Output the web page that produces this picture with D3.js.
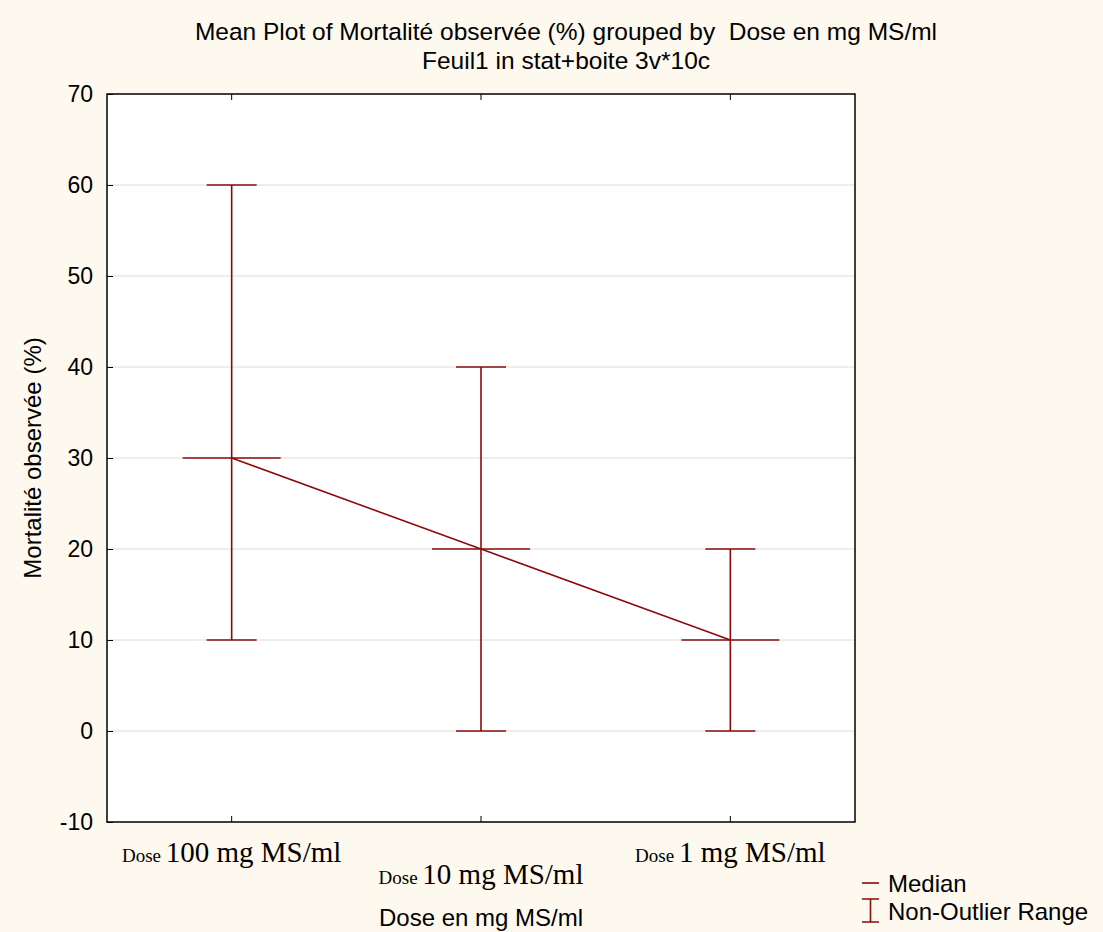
<!DOCTYPE html>
<html>
<head>
<meta charset="utf-8">
<script src="https://cdn.jsdelivr.net/npm/d3@7"></script>
<style>
  body { margin: 0; background: #fdf9ef; }
  svg { display: block; }
  text { font-family: "Liberation Sans", Arial, sans-serif; fill: #000; }
</style>
</head>
<body>
<svg id="chart" width="1103" height="932"></svg>
<script>
// data
var doses = ["100 mg MS/ml", "10 mg MS/ml", "1 mg MS/ml"];
var medians = [30, 20, 10];
var lows = [10, 0, 0];
var highs = [60, 40, 20];
var yTicks = [-10, 0, 10, 20, 30, 40, 50, 60, 70];

var red = "#8b0a0a";
var svg = d3.select("#chart");
var pLeft = 107, pRight = 855, pTop = 94, pBottom = 822;

var x = d3.scaleBand().domain(doses).range([pLeft, pRight]);
var y = d3.scaleLinear().domain([-10, 70]).range([pBottom, pTop]);
var cx = function(d) { return x(d) + x.bandwidth() / 2; };

svg.append("rect")
    .attr("width", 1103).attr("height", 932)
    .style("fill", "#fdf9ef");
svg.append("rect")
    .attr("x", pLeft).attr("y", pTop)
    .attr("width", pRight - pLeft).attr("height", pBottom - pTop)
    .style("fill", "#fff");

// grid
svg.selectAll("grid")
    .data(yTicks.slice(1, -1))
    .enter()
    .append("line")
    .attr("x1", pLeft).attr("x2", pRight)
    .attr("y1", function(d) { return y(d); })
    .attr("y2", function(d) { return y(d); })
    .style("stroke", "#dcdcdc")
    .style("stroke-width", 1);

// y axis
var yAxis = svg.append("g")
    .attr("transform", "translate(" + pLeft + ",0)")
    .call(d3.axisLeft(y).tickValues(yTicks).tickFormat(function(d) { return String(d); })
      .tickSizeInner(-6).tickSizeOuter(0).tickPadding(14));
yAxis.select(".domain").remove();
yAxis.selectAll("line").style("stroke", "#000");
yAxis.selectAll("text")
    .style("font-size", "23px")
    .style("font-family", "Liberation Sans, Arial, sans-serif");

// x ticks, bottom and top
svg.selectAll("xtickB")
    .data(doses)
    .enter()
    .append("line")
    .attr("x1", cx).attr("x2", cx)
    .attr("y1", pBottom).attr("y2", pBottom - 6)
    .style("stroke", "#000");
svg.selectAll("xtickT")
    .data(doses)
    .enter()
    .append("line")
    .attr("x1", cx).attr("x2", cx)
    .attr("y1", pTop).attr("y2", pTop + 6)
    .style("stroke", "#000");

// frame
svg.append("rect")
    .attr("x", pLeft).attr("y", pTop)
    .attr("width", pRight - pLeft).attr("height", pBottom - pTop)
    .style("fill", "none")
    .style("stroke", "#000")
    .style("stroke-width", 1.5);

// whiskers
var g = svg.append("g").style("stroke", red).style("stroke-width", 1.6).style("fill", "none");
g.selectAll("whisk")
    .data(doses)
    .enter()
    .append("line")
    .attr("x1", cx).attr("x2", cx)
    .attr("y1", function(d, i) { return y(lows[i]); })
    .attr("y2", function(d, i) { return y(highs[i]); });
g.selectAll("capHi")
    .data(doses)
    .enter()
    .append("line")
    .attr("x1", function(d) { return cx(d) - 25; })
    .attr("x2", function(d) { return cx(d) + 25; })
    .attr("y1", function(d, i) { return y(highs[i]); })
    .attr("y2", function(d, i) { return y(highs[i]); });
g.selectAll("capLo")
    .data(doses)
    .enter()
    .append("line")
    .attr("x1", function(d) { return cx(d) - 25; })
    .attr("x2", function(d) { return cx(d) + 25; })
    .attr("y1", function(d, i) { return y(lows[i]); })
    .attr("y2", function(d, i) { return y(lows[i]); });
g.selectAll("med")
    .data(doses)
    .enter()
    .append("line")
    .attr("x1", function(d) { return cx(d) - 49; })
    .attr("x2", function(d) { return cx(d) + 49; })
    .attr("y1", function(d, i) { return y(medians[i]); })
    .attr("y2", function(d, i) { return y(medians[i]); });
g.append("path")
    .datum(doses)
    .attr("d", d3.line()
      .x(function(d) { return cx(d); })
      .y(function(d, i) { return y(medians[i]); }));

// category labels, staggered
var lab = svg.selectAll("catLabel")
    .data(doses)
    .enter()
    .append("text")
    .attr("x", cx)
    .attr("y", function(d, i) { return i % 2 == 0 ? 862 : 884; })
    .style("text-anchor", "middle");
lab.append("tspan").text("Dose ")
    .style("font-size", "19px")
    .style("font-family", "Liberation Serif, Times New Roman, serif");
lab.append("tspan").text(function(d) { return d; })
    .style("font-size", "29px")
    .style("font-family", "Liberation Serif, Times New Roman, serif");

// titles
svg.append("text")
    .attr("x", 566).attr("y", 40)
    .style("text-anchor", "middle")
    .style("font-size", "24.5px")
    .attr("xml:space", "preserve")
    .text("Mean Plot of Mortalité observée (%) grouped by  Dose en mg MS/ml");
svg.append("text")
    .attr("x", 566).attr("y", 69)
    .style("text-anchor", "middle")
    .style("font-size", "24.5px")
    .text("Feuil1 in stat+boite 3v*10c");
svg.append("text")
    .attr("transform", "translate(41," + y(30) + ") rotate(-90)")
    .style("text-anchor", "middle")
    .style("font-size", "24px")
    .text("Mortalité observée (%)");
svg.append("text")
    .attr("x", cx(doses[1])).attr("y", 926)
    .style("text-anchor", "middle")
    .style("font-size", "24px")
    .text("Dose en mg MS/ml");

// legend
var lg = svg.append("g");
lg.append("line")
    .attr("x1", 862).attr("x2", 879).attr("y1", 883).attr("y2", 883)
    .style("stroke", red).style("stroke-width", 1.6);
lg.append("path")
    .attr("d", "M862,899H879M870.5,899V922M862,922H879")
    .style("stroke", red).style("stroke-width", 1.6).style("fill", "none");
lg.append("text").attr("x", 888).attr("y", 892).style("font-size", "24px").text("Median");
lg.append("text").attr("x", 888).attr("y", 920).style("font-size", "24px").text("Non-Outlier Range");
</script>
</body>
</html>
